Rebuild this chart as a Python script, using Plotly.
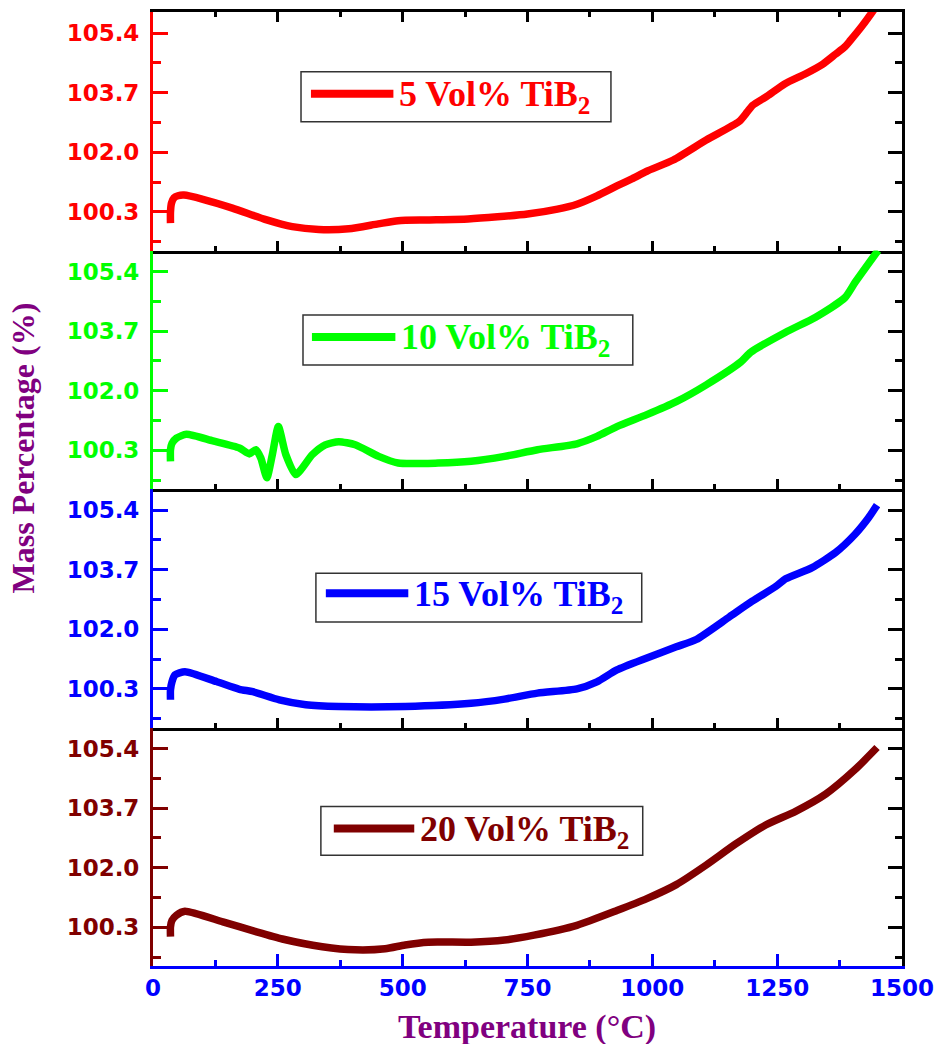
import plotly.graph_objects as go

# ---------------- data ----------------
temp_5 = [35, 35, 37, 42, 50, 62, 100, 159, 226, 279, 332, 392, 451, 491, 551, 631, 690, 750, 810, 849,
          889, 929, 960, 989, 1042, 1108, 1174, 1190, 1201, 1230, 1265, 1307, 1340, 1367, 1385, 1396,
          1420, 1440, 1450]
mass_5 = [99.98, 100.3, 100.55, 100.7, 100.76, 100.78, 100.66, 100.41, 100.08, 99.88, 99.8, 99.82, 99.96,
          100.05, 100.07, 100.1, 100.16, 100.24, 100.38, 100.52, 100.76, 101.04, 101.25, 101.46, 101.78,
          102.35, 102.88, 103.15, 103.34, 103.6, 103.95, 104.24, 104.5, 104.8, 105.0, 105.18, 105.6,
          105.99, 106.2]

temp_10 = [35, 35, 38, 47, 67, 120, 173, 193, 206, 216, 228, 239, 251, 266, 286, 319, 345, 372, 405, 452,
           491, 571, 637, 704, 770, 849, 889, 929, 989, 1048, 1108, 1177, 1197, 1267, 1327, 1386, 1406,
           1452]
mass_10 = [99.99, 100.32, 100.5, 100.65, 100.76, 100.57, 100.37, 100.2, 100.32, 100.08, 99.52, 100.18,
           100.98, 100.18, 99.61, 100.18, 100.46, 100.55, 100.46, 100.13, 99.94, 99.94, 99.99, 100.13,
           100.32, 100.49, 100.7, 100.98, 101.32, 101.69, 102.17, 102.82, 103.1, 103.67, 104.1, 104.66,
           105.09, 106.0]

temp_15 = [35, 35, 38, 44, 64, 127, 173, 200, 253, 306, 372, 505, 637, 704, 770, 849, 889, 929, 989,
           1048, 1088, 1154, 1200, 1247, 1267, 1320, 1367, 1406, 1433, 1450]
mass_15 = [99.99, 100.27, 100.5, 100.7, 100.79, 100.51, 100.29, 100.22, 99.99, 99.85, 99.8, 99.8, 99.89,
           100.01, 100.18, 100.3, 100.5, 100.84, 101.18, 101.5, 101.71, 102.35, 102.8, 103.22, 103.44,
           103.76, 104.19, 104.71, 105.18, 105.54]

temp_20 = [35, 35, 38, 47, 64, 140, 206, 259, 339, 405, 465, 505, 551, 637, 704, 763, 849, 929, 989,
           1048, 1108, 1167, 1227, 1287, 1347, 1406, 1450]
mass_20 = [100.04, 100.32, 100.5, 100.65, 100.76, 100.46, 100.18, 99.97, 99.75, 99.66, 99.69, 99.8,
           99.88, 99.88, 99.94, 100.08, 100.36, 100.78, 101.12, 101.52, 102.08, 102.68, 103.22, 103.61,
           104.1, 104.8, 105.43]

series_names = ["5 Vol% TiB<sub>2</sub>", "10 Vol% TiB<sub>2</sub>",
                "15 Vol% TiB<sub>2</sub>", "20 Vol% TiB<sub>2</sub>"]
series_temps = [temp_5, temp_10, temp_15, temp_20]
series_mass = [mass_5, mass_10, mass_15, mass_20]
colors = ["#FF0000", "#00FF00", "#0000FF", "#800000"]

y_ticks = [100.3, 102.0, 103.7, 105.4]
y_tick_text = ["100.3", "102.0", "103.7", "105.4"]
y_minor = [99.45, 101.15, 102.85, 104.55]
x_ticks = [0, 250, 500, 750, 1000, 1250, 1500]

# ---------------- layout geometry ----------------
W, H = 943, 1044
L, R, T, B = 153, 36, 9, 78
PW = W - L - R
PH = H - T - B


def px_x(px):
    return (px - L) / PW


def px_y(py):
    return (H - B - py) / PH


TICK_FONT = dict(family="DejaVu Sans", size=23, weight="bold")
SERIF = "Times New Roman, Liberation Serif, serif"
PURPLE = "#800080"
Y_RANGE = [99.2, 106.0]

fig = go.Figure()

for i in range(4):
    n = i + 1
    fig.add_trace(go.Scatter(
        x=series_temps[i], y=series_mass[i], mode="lines",
        line=dict(color=colors[i], width=7.5, shape="spline", smoothing=0.6),
        name=series_names[i], showlegend=False,
        xaxis=f"x{n}", yaxis=f"y{n}",
    ))
    # dummy trace for right mirror axis
    fig.add_trace(go.Scatter(x=[None], y=[None], xaxis=f"x{n}", yaxis=f"y{n + 4}",
                             showlegend=False, hoverinfo="skip"))

layout = dict(
    width=W, height=H,
    margin=dict(l=L, r=R, t=T, b=B),
    paper_bgcolor="white", plot_bgcolor="white",
    showlegend=False,
)

for i in range(4):
    n = i + 1
    dom = [1 - n * 0.25, 1 - i * 0.25]
    bottom = (n == 4)
    xa = dict(
        domain=[0, 1], range=[0, 1500], anchor=f"y{n}",
        tickmode="array", tickvals=x_ticks, ticktext=[str(v) for v in x_ticks],
        showticklabels=bottom, ticks="inside",
        ticklen=12 if bottom else 10, tickwidth=2.5,
        minor=dict(ticks="inside", dtick=125, tick0=0, ticklen=6 if bottom else 5,
                   tickwidth=2.5, tickcolor="#0000FF" if bottom else "black"),
        tickcolor="#0000FF" if bottom else "black",
        showline=True, linecolor="#0000FF" if bottom else "black", linewidth=2.5,
        mirror="ticks" if n == 1 else False,
        showgrid=False, zeroline=False,
        tickfont=dict(color="#0000FF", **TICK_FONT),
    )
    if not bottom:
        xa["matches"] = "x4"
    layout[f"xaxis{n}"] = xa

    ya = dict(
        domain=dom, range=Y_RANGE, anchor=f"x{n}",
        tickmode="array", tickvals=y_ticks, ticktext=y_tick_text,
        ticks="inside", ticklen=15, tickwidth=2.5, tickcolor=colors[i],
        minor=dict(ticks="inside", tickvals=y_minor,
                   ticklen=8, tickwidth=2.5, tickcolor=colors[i]),
        showline=True, linecolor=colors[i], linewidth=3,
        showgrid=False, zeroline=False,
        tickfont=dict(color=colors[i], **TICK_FONT),
        ticklabelstandoff=6,
    )
    layout[f"yaxis{n}"] = ya

    yr = dict(
        overlaying=f"y{n}", side="right", anchor=f"x{n}", range=Y_RANGE,
        tickmode="array", tickvals=y_ticks, showticklabels=False,
        ticks="inside", ticklen=14, tickwidth=2.5, tickcolor="black",
        minor=dict(ticks="inside", tickvals=y_minor,
                   ticklen=7, tickwidth=2.5, tickcolor="black"),
        showline=True, linecolor="black", linewidth=2.5,
        showgrid=False, zeroline=False,
    )
    layout[f"yaxis{n + 4}"] = yr

fig.update_layout(**layout)

# ---------------- custom legend boxes ----------------
legend_boxes = [
    (302, 614, 69, 119, 312, 395, 91),
    (304, 636, 313, 363, 313, 397, 335),
    (317, 645, 572, 621, 327, 410, 592),
    (322, 646, 806, 855, 335, 416, 828),
]
shapes = []
annotations = []
for i, (x0, x1, y0, y1, lx0, lx1, ly) in enumerate(legend_boxes):
    shapes.append(dict(type="rect", xref="paper", yref="paper",
                       x0=px_x(x0), x1=px_x(x1), y0=px_y(y1), y1=px_y(y0),
                       line=dict(color="#333333", width=1.5), fillcolor="rgba(0,0,0,0)"))
    shapes.append(dict(type="line", xref="paper", yref="paper",
                       x0=px_x(lx0), x1=px_x(lx1), y0=px_y(ly), y1=px_y(ly),
                       line=dict(color=colors[i], width=8)))
    annotations.append(dict(xref="paper", yref="paper", x=px_x(lx1 + 4), y=px_y(ly + 3),
                            xanchor="left", yanchor="middle", showarrow=False,
                            text=f"<b>{series_names[i]}</b>",
                            font=dict(family=SERIF, size=36, color=colors[i])))

annotations.append(dict(xref="paper", yref="paper", x=px_x(22), y=px_y(446),
                        xanchor="center", yanchor="middle", textangle=-90, showarrow=False,
                        text="<b>Mass Percentage (%)</b>",
                        font=dict(family=SERIF, size=32, color=PURPLE)))
annotations.append(dict(xref="paper", yref="paper", x=px_x(529), y=px_y(1027),
                        xanchor="center", yanchor="middle", showarrow=False,
                        text="<b>Temperature (°C)</b>",
                        font=dict(family=SERIF, size=34, color=PURPLE)))

fig.update_layout(shapes=shapes, annotations=annotations)

fig.write_html(
    "out.html",
    config={"displayModeBar": False},
    post_script="document.body.style.margin='0';document.body.style.padding='0';"
                "document.body.style.overflow='hidden';",
)
